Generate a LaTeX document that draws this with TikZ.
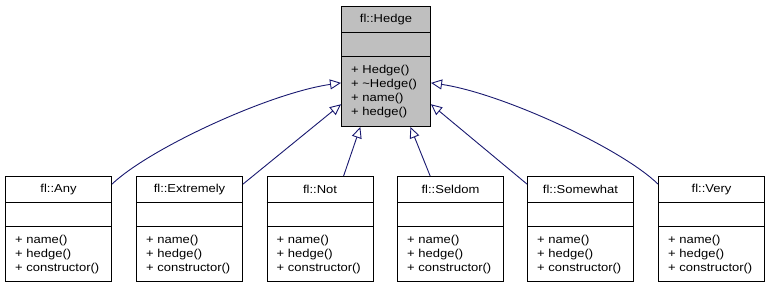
\documentclass[tikz,border=0pt]{standalone}
\usepackage{fontspec}
\setmainfont{Liberation Sans}[FakeStretch=1.13]
\usetikzlibrary{calc,arrows.meta}
\definecolor{edgeblue}{HTML}{191970}
\definecolor{basegray}{HTML}{BFBFBF}

\tikzset{
  cls/.style={draw, line width=1pt, rectangle, inner sep=0pt, anchor=north west,
    minimum width=106pt, minimum height=105pt},
  clsname/.style={inner sep=0pt, font=\fontsize{11.5}{14}\selectfont},
  clsops/.style={inner sep=0pt, anchor=north west, align=left, font=\fontsize{11.5}{14}\selectfont},
  inherits/.style={draw=edgeblue, line width=0.9pt, -{Triangle[open,length=11pt,width=10pt]}}
}

% dividers of a class box: title part and empty attribute part
\def\compartments(#1){
  \draw[line width=1pt] ($(#1.north west)+(0,-26.5)$) -- ($(#1.north east)+(0,-26.5)$);
  \draw[line width=1pt] ($(#1.north west)+(0,-51)$) -- ($(#1.north east)+(0,-51)$);
  \node[clsname] (#1-name) at ($(#1.north)+(0,-13.5)$) {fl::#1};
}
% one derived hedge class at left edge #2
\def\childclass(#1)(#2){
  \node[cls] (#1) at (#2,112) {};
  \compartments(#1)
  \node[clsops] (#1-ops) at ($(#1.north west)+(10,-58.5)$) {+ name()\\+ hedge()\\+ constructor()};
}

\begin{document}
\begin{tikzpicture}[x=1pt,y=1pt]
  \useasboundingbox (0,0) rectangle (771,288);

  %%%%% base class %%%%%
  \node[cls, fill=basegray, minimum width=89pt, minimum height=120pt] (Hedge) at (341,282) {};
  \compartments(Hedge)
  \node[clsops] (Hedge-ops) at ($(Hedge.north west)+(10,-58.5)$) {+ Hedge()\\+ \textasciitilde Hedge()\\+ name()\\+ hedge()};

  %%%%% derived classes %%%%%
  \childclass(Any)(5)
  \childclass(Extremely)(136)
  \childclass(Not)(266.5)
  \childclass(Seldom)(397)
  \childclass(Somewhat)(527)
  \childclass(Very)(658)

  %%%%% inheritance %%%%%
  \draw[inherits] (Any.40) .. controls (150,140) and (270,195) .. (Hedge.200);
  \draw[inherits] (Extremely.40) -- (Hedge.220);
  \draw[inherits] (Not.66) -- (Hedge.247);
  \draw[inherits] (Seldom.111) -- (Hedge.292);
  \draw[inherits] (Somewhat.140) -- (Hedge.320);
  \draw[inherits] (Very.140) .. controls (621,140) and (501,195) .. (Hedge.340);
\end{tikzpicture}
\end{document}
